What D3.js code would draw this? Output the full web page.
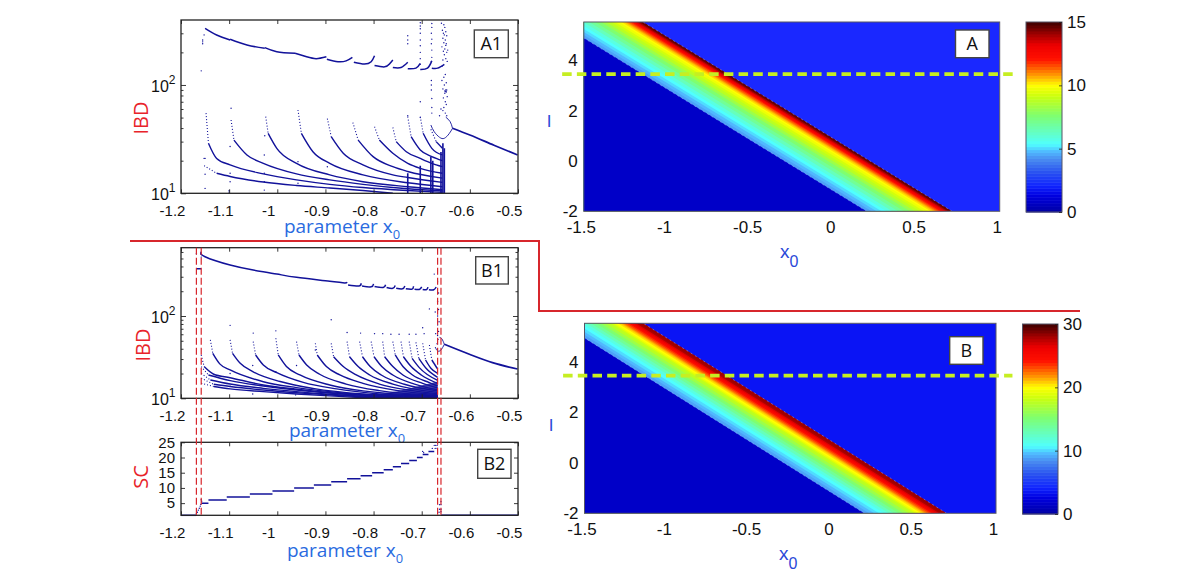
<!DOCTYPE html>
<html><head><meta charset="utf-8">
<style>html,body{margin:0;padding:0;background:#fff}svg{display:block}</style>
<script src="https://cdn.jsdelivr.net/npm/d3@7"></script></head><body>
<svg id="c" width="1200" height="575"></svg>
<script>
// ---------- DATA ----------
const xTicksLeft = [-1.2,-1.1,-1,-0.9,-0.8,-0.7,-0.6,-0.5];
const xTicksHeat = [-1.5,-1,-0.5,0,0.5,1];
const yTicksHeat = [-2,0,2,4];
const logMinor = [20,30,40,50,60,70,80,90,200,300,400,500,600];
const scTicks = [5,10,15,20,25];
const cbTicksA = [0,5,10,15];
const cbTicksB = [0,10,20,30];

const a1Curves = [
 [[-1.152,18],[-1.126,15.3],[-1.098,14.3],[-1.029,12.7],[-.96,11.8],[-.891,11.2],[-.822,10.6],[-.76,10]],
 [[-1.148,55],[-1.143,29],[-1.126,21],[-1.098,18.3],[-1.029,15.1],[-.96,13.3],[-.891,12.1],[-.822,11.3],[-.729,10.6],[-.657,10.2]],
 [[-1.096,47.5],[-1.09,31],[-1.063,22.6],[-1.029,18.9],[-.96,15.1],[-.891,13.3],[-.822,12.1],[-.729,11],[-.657,10.5]],
 [[-1.024,51],[-1.019,35.8],[-1.001,26],[-.96,18.9],[-.891,14.8],[-.822,12.8],[-.729,11.5],[-.657,10.8]],
 [[-.957,58.8],[-.95,35.8],[-.926,24.2],[-.891,18.9],[-.822,14.8],[-.729,12.5],[-.657,11.5]],
 [[-.896,49],[-.888,33.3],[-.863,23.4],[-.822,18.3],[-.76,14.8],[-.729,14],[-.657,12.6]],
 [[-.843,45],[-.832,31],[-.801,21.8],[-.76,17.6],[-.729,15.9],[-.657,13.8]],
 [[-.798,41.2],[-.788,31],[-.76,23.4],[-.729,18.9],[-.703,17],[-.657,15.3]],
 [[-.76,40.5],[-.753,30],[-.732,24.2],[-.703,21],[-.679,18.9],[-.657,17.6]],
 [[-.729,51],[-.722,33.3],[-.703,25.1],[-.679,21.8],[-.657,20]],
 [[-.703,51],[-.697,35.8],[-.679,26],[-.657,22.6]],
 [[-.681,39],[-.67,30],[-.657,26]]
];
const a1Top = [
 [[-1.15,333],[-1.126,289],[-1.098,260]],
 [[-1.098,264],[-1.063,234],[-1.026,218]],
 [[-1.026,221],[-1.001,203],[-.963,196]],
 [[-.963,196],[-.939,182],[-.919,175],[-.898,182]],
 [[-.897,173],[-.874,164],[-.857,167],[-.844,180]],
 [[-.841,162],[-.819,156],[-.805,164],[-.798,186]],
 [[-.798,151],[-.777,147],[-.767,156],[-.76,170]],
 [[-.76,145],[-.743,145],[-.729,162]],
 [[-.729,141],[-.712,143],[-.703,158]],
 [[-.703,139],[-.688,143],[-.679,167]],
 [[-.679,143],[-.667,143],[-.653,155]]
];
const a1Tail = [[-.636,39.8],[-.6,34.5],[-.55,27.8],[-.501,22.6]];
const a1LoopUp = [[-.636,39.8],[-.641,45.9],[-.65,50.4]];
const a1LoopDown = [[-.636,39.8],[-.643,35.5],[-.653,32.2],[-.663,32.9],[-.674,37],[-.681,42.7]];
const a1Columns = [[-.729,10,15.3],[-.703,10,18],[-.681,10,21.8],[-.677,10,20],[-.66,10,24],[-.656,10,29],[-.653,10,26]];
const a1Dots = [
 [-.659,372],[-.654,360],[-.652,340],[-.657,320],[-.65,310],[-.653,290],[-.648,285],[-.656,270],[-.651,260],[-.654,245],[-.649,240],[-.658,225],[-.652,215],[-.655,205],[-.648,200],[-.653,190],[-.65,175],[-.656,170],[-.647,165],[-.651,125],[-.654,118],[-.658,110],[-.649,105],[-.653,100],[-.656,92],[-.65,90],[-.648,90],[-.652,84],[-.647,78],[-.655,76],[-.651,70],[-.649,66],[-.654,62],[-.656,58],[-.651,55],[-.648,52],
 [-.655,300],[-.65,232],[-.646,210],[-.657,150],[-.652,88],[-.65,87],[-.649,86],[-.66,60],[-.663,52],
 [-.679,370],[-.679,340],[-.68,300],[-.679,265],[-.68,240],[-.679,210],[-.679,180],[-.68,165],[-.68,110],[-.68,100],[-.68,90],[-.679,75],[-.679,62],[-.679,55],
 [-.703,375],[-.703,350],[-.703,330],[-.703,300],[-.703,260],[-.703,230],[-.703,200],[-.703,175],[-.703,155],[-.703,70],[-.703,50],
 [-.729,285],[-.729,260],[-.729,240],[-.729,52],
 [-1.158,135],[-1.155,250],[-1.155,260],[-1.155,240],[-1.152,290],[-1.152,21],[-1.15,21],[-1.15,15],[-1.15,11.1],
 [-1.098,27],[-1.098,15.3],[-1.098,12.8],[-1.1,10.3],[-1.1,10.6],[-1.1,10],[-1.096,61],
 [-1.026,34],[-1.027,22.6],[-1.027,15.3],[-1.027,12.8],[-1.027,10.7],[-.957,19.6],[-.957,12.4],[-.896,17.6]
];

const b1Curves = [
 [[-1.158,15.2],[-1.132,13.9],[-1.098,13],[-1.029,12.05],[-.96,11.3],[-.891,10.7],[-.822,10.2],[-.781,10]],
 [[-1.158,17.5],[-1.132,14.8],[-1.098,13.9],[-1.029,12.6],[-.96,11.7],[-.891,11],[-.822,10.4],[-.753,10]],
 [[-1.158,20.1],[-1.139,16.7],[-1.098,14.9],[-1.029,13.2],[-.96,12.05],[-.891,11.2],[-.822,10.6],[-.719,10]],
 [[-1.158,24.3],[-1.143,19.2],[-1.098,16.4],[-1.029,14.1],[-.96,12.6],[-.891,11.6],[-.822,10.9],[-.667,10.2]],
 [[-1.158,33.6],[-1.152,24.3],[-1.132,19.6],[-1.098,17.8],[-1.029,14.5],[-.96,12.9],[-.891,11.7],[-.822,10.9],[-.667,10.3]],
 [[-1.139,51.3],[-1.134,35.2],[-1.119,26],[-1.098,22.1],[-1.029,15.9],[-.96,13.5],[-.891,12.05],[-.822,11.1],[-.667,10.4]],
 [[-1.098,51.3],[-1.093,35.2],[-1.077,26.6],[-1.05,21],[-.994,16],[-.926,13.2],[-.822,11.3],[-.667,10.5]],
 [[-1.05,48.9],[-1.045,33.6],[-1.029,25.4],[-1.001,20.5],[-.946,15.6],[-.877,13],[-.788,11.3],[-.667,10.6]],
 [[-1.003,53.6],[-.998,33.6],[-.981,24.3],[-.953,19.2],[-.891,14.5],[-.822,12.3],[-.667,10.7]],
 [[-.96,48.9],[-.955,33.6],[-.939,25.4],[-.912,19.6],[-.857,14.9],[-.788,12.4],[-.667,10.9]],
 [[-.921,46.6],[-.917,33.6],[-.898,24.3],[-.87,19.2],[-.822,15.2],[-.753,12.5],[-.667,11.1]],
 [[-.888,46.6],[-.883,32],[-.863,24.3],[-.836,19.2],[-.788,14.9],[-.719,12.4],[-.667,11.4]],
 [[-.855,48.9],[-.85,32],[-.832,24.3],[-.808,19.2],[-.76,14.9],[-.667,11.8]],
 [[-.829,48.9],[-.823,32],[-.807,24.3],[-.784,19.2],[-.736,14.8],[-.667,12.3]],
 [[-.805,48.9],[-.799,32],[-.783,24.3],[-.76,19.2],[-.715,14.9],[-.667,12.7]],
 [[-.781,48.9],[-.777,32],[-.76,24.3],[-.739,19.2],[-.698,15.2],[-.667,13.4]],
 [[-.76,48.9],[-.755,33.6],[-.739,24.3],[-.719,19.2],[-.684,15.5],[-.667,14.1]],
 [[-.743,48.9],[-.738,32],[-.722,24.3],[-.701,19.2],[-.667,15.2]],
 [[-.726,48.9],[-.72,30.6],[-.705,23.6],[-.667,16.5]],
 [[-.712,47.9],[-.706,30.6],[-.691,23.2],[-.667,18]],
 [[-.698,46.6],[-.692,29.2],[-.681,23.2],[-.667,20.1]],
 [[-.684,44.4],[-.679,29.2],[-.667,22.7]]
];
const b1Top = [
 [[-1.158,604],[-1.15,525],[-1.098,416],[-1.05,362],[-1.001,324],[-.96,295],[-.891,265],[-.86,252],[-.855,258]],
 [[-.853,238],[-.83,232],[-.826,250]],
 [[-.824,232],[-.805,226],[-.8,246]],
 [[-.798,228],[-.78,222],[-.775,240]],
 [[-.773,222],[-.76,217],[-.755,235]],
 [[-.753,218],[-.74,214],[-.735,232]],
 [[-.733,214],[-.72,212],[-.717,230]],
 [[-.715,212],[-.705,210],[-.7,226]],
 [[-.698,210],[-.69,209],[-.687,224]],
 [[-.685,209],[-.675,208],[-.67,225]],
 [[-1.168,376],[-1.158,376]]
];
const b1Tail = [[-.653,45.3],[-.601,34.3],[-.553,27.1],[-.501,22.7]];
const b1LoopUp = [[-.653,45.3],[-.658,52.6],[-.663,55]];
const b1LoopDown = [[-.653,45.3],[-.66,38.7],[-.667,37.6],[-.672,42]];
const b1Wedge = [[-.85,10],[-.667,10],[-.667,16],[-.75,12.2]];
const b1Dots = [
 [-1.098,77],[-.888,90],[-.674,323],[-.684,122],[-.672,112],[-.698,72],[-.855,63],[-.827,62],[-.798,61],[-.781,61],[-.764,60],[-.747,60],[-.726,60],[-.712,60],[-.695,61],[-.671,61],
 [-1.05,62],[-1.003,66],[-1.051,25],[-1.003,21],[-.96,25],[-.921,38.6],[-1.051,11.3],[-.962,11],[-1.098,20],[-1.098,14],
 [-.667,260],[-.665,190],[-.667,150],[-.665,120],[-.667,100],[-.664,85],[-.667,78],[-.665,65],[-.667,58],[-.666,52],[-.668,46],
 [-1.158,560],[-1.158,520],[-1.168,570]
];
const b2Steps = [
 [-1.2,-1.168,1],[-1.158,-1.143,5],[-1.143,-1.105,6],[-1.105,-1.057,7],[-1.057,-1.01,8],[-1.01,-.965,9],[-.965,-.924,10],[-.924,-.888,11],[-.888,-.855,12],[-.855,-.827,13],[-.827,-.803,14],[-.803,-.779,15],[-.779,-.76,16],[-.76,-.743,17],[-.743,-.726,18],[-.726,-.71,19],[-.71,-.698,20],[-.698,-.686,21],[-.686,-.674,22],[-.66,-.5,1]
];
const b2Dots = [
 [-1.168,1.5],[-1.166,2],[-1.164,2.7],[-1.162,3.3],[-1.16,4],[-1.159,4.6],[-1.157,5.6],[-1.158,6.1],
 [-.698,22],[-.696,21.6],[-.674,24],[-.671,24],[-.668,24],[-.678,23],[-.672,23],[-.668,23],
 [-.664,2],[-.663,3],[-.66,2.2],[-.66,3],[-.663,4.5],[-.66,4.5],[-.66,5.5]
];
const redX = [-1.168,-1.158,-.667,-.66];

// heat-map bands: colormap fraction and edge x0 on the rows I = -2 and I = top
const heatLevels = [.27,.29,.31,.33,.35,.38,.42,.46,.5,.54,.58,.61,.64,.66,.68,.7,.72,.75,.78,.82,.85,.88,.92,.96,1];
const heatABottom = [.2,.23,.26,.29,.32,.355,.39,.425,.46,.49,.52,.545,.57,.585,.6,.61,.62,.633,.645,.656,.665,.677,.69,.7,.714];
const heatATop = [-1.658,-1.628,-1.598,-1.568,-1.538,-1.503,-1.468,-1.433,-1.398,-1.368,-1.338,-1.313,-1.288,-1.273,-1.258,-1.248,-1.238,-1.225,-1.213,-1.202,-1.193,-1.181,-1.168,-1.158,-1.144];
const heatBBottom = [.2,.23,.26,.29,.32,.35,.38,.41,.44,.47,.5,.515,.53,.545,.56,.57,.58,.595,.61,.625,.64,.655,.67,.685,.7];
const heatBTop = [-1.642,-1.612,-1.582,-1.552,-1.522,-1.492,-1.462,-1.432,-1.402,-1.372,-1.342,-1.327,-1.312,-1.297,-1.282,-1.272,-1.262,-1.247,-1.232,-1.217,-1.202,-1.187,-1.172,-1.157,-1.142];
const heatAMax = .965, heatBMax = .93;
const dashI = [3.45,3.45];
const dashX = [-1.63,1.1];

// colormap stops
const cmF = [0,.08,.13,.2,.27,.31,.35,.5,.6,.66,.72,.8,.87,.93,1];
const cmC = ["#0000a8","#0000e0","#1024ff","#2850f0","#4a8cf0","#50b8ff","#50ffff","#7fff70","#c8ff10","#ffff00","#ff9000","#ff1000","#ee0000","#a00000","#300000"];
const cbSteps = d3.range(0,1.0001,1/64);

// ---------- DRAW ----------
const svg = d3.select("#c");
const navy = "#12129a", red = "#d7262c", blue = "#2a6be0", heatBlue = "#2a48d8";
const tickFont = "'Liberation Sans',Arial,sans-serif", labFont = "'Open Sans',sans-serif";
const cmap = d3.scaleLinear().domain(cmF).range(cmC).interpolate(d3.interpolateRgb);
const plainNum = d => String(d);

const xA1 = d3.scaleLinear([-1.2,-.5],[181,518]);
const yA1 = d3.scaleLog([10,398],[193.3,20]);
const yB1 = d3.scaleLog([10,676],[398.3,247.7]);
const yB2 = d3.scaleLinear([1,25],[515.3,442.3]);

let clipN = 0;
function clip(x0,y0,x1,y1){
  const id="cl"+(clipN++);
  svg.append("clipPath").attr("id",id).append("rect").attr("x",x0).attr("y",y0).attr("width",x1-x0).attr("height",y1-y0);
  return "url(#"+id+")";
}
function style(g){ g.selectAll("path.domain").remove(); g.selectAll("line").attr("stroke","#222").attr("stroke-width",.9); }

function leftFrame(x,y,yAxisFn){
  const [l,r]=x.range(), [b,t]=y.range();
  const gb=svg.append("g").attr("transform",`translate(0,${b})`).call(d3.axisBottom(x).tickValues(xTicksLeft).tickFormat(plainNum).tickSize(-4).tickPadding(0));
  style(gb);
  gb.selectAll("text").attr("font-family",tickFont).attr("font-size",15).attr("fill","#111").attr("dy",0).attr("y",23).attr("dx",-9);
  const gt=svg.append("g").attr("transform",`translate(0,${t})`).call(d3.axisTop(x).tickValues(xTicksLeft).tickFormat("").tickSize(-4));
  style(gt);
  yAxisFn(l,r);
  svg.append("rect").attr("x",l).attr("y",t).attr("width",r-l).attr("height",b-t).attr("fill","none").attr("stroke","#222").attr("stroke-width",1.3);
}
function logAxis(y,labels){
  return (l,r)=>{
    const major=[10,100], minor=logMinor.filter(v=>v<y.domain()[1]);
    [[l,d3.axisRight],[r,d3.axisLeft]].forEach(([px,ax])=>{
      style(svg.append("g").attr("transform",`translate(${px},0)`).call(ax(y).tickValues(major).tickFormat("").tickSize(5)));
      style(svg.append("g").attr("transform",`translate(${px},0)`).call(ax(y).tickValues(minor).tickFormat("").tickSize(2.5)));
    });
    labels.forEach(([txt,sup,base])=>{
      const t=svg.append("text").attr("x",151).attr("y",base).attr("font-family",tickFont).attr("font-size",16).attr("fill","#111").text(txt);
      t.append("tspan").attr("dy",-8.5).attr("font-size",12).text(sup);
    });
  };
}
function panelLabel(x0,y0,x1,y1,txt,size){
  svg.append("rect").attr("x",x0).attr("y",y0).attr("width",x1-x0).attr("height",y1-y0).attr("fill","#fff").attr("stroke","#444").attr("stroke-width",1.4);
  svg.append("text").attr("x",(x0+x1)/2).attr("y",(y0+y1)/2+size*.36).attr("text-anchor","middle").attr("font-family",labFont).attr("font-size",size).attr("fill","#111").text(txt);
}
function xLabel(cx,base,fill,fam,size){
  const t=svg.append("text").attr("x",cx).attr("y",base).attr("text-anchor","middle").attr("font-family",fam).attr("font-size",size).attr("fill",fill).text("parameter x");
  t.append("tspan").attr("dy",size*.3).attr("font-size",size*.68).text("0");
}
function rotLabel(cx,cy,txt,size){
  svg.append("text").attr("transform",`translate(${cx},${cy}) rotate(-90)`).attr("text-anchor","middle").attr("font-family",labFont).attr("font-size",size).attr("fill","#e8232a").text(txt);
}

function marks(x,y,curves,top,tail,loops,cols,dots,cp){
  const g=svg.append("g").attr("clip-path",cp).attr("fill","none").attr("stroke",navy);
  const smooth=d3.line().x(d=>x(d[0])).y(d=>y(d[1])).curve(d3.curveMonotoneX);
  const plain=d3.line().x(d=>x(d[0])).y(d=>y(d[1])).curve(d3.curveNatural);
  curves.forEach(c=>{
    g.append("path").attr("d",smooth(c.slice(0,2))).attr("stroke-width",1.1).attr("stroke-dasharray","1 2");
    g.append("path").attr("d",smooth(c.slice(1))).attr("stroke-width",1.4);
  });
  top.forEach(c=>g.append("path").attr("d",plain(c)).attr("stroke-width",1.5));
  g.append("path").attr("d",smooth(tail)).attr("stroke-width",1.7);
  loops.forEach(c=>g.append("path").attr("d",plain(c)).attr("stroke-width",.9));
  cols.forEach(c=>g.append("line").attr("x1",x(c[0])).attr("x2",x(c[0])).attr("y1",y(c[1])).attr("y2",y(c[2])).attr("stroke-width",1.6));
  g.selectAll("circle").data(dots).join("circle").attr("cx",d=>x(d[0])).attr("cy",d=>y(d[1])).attr("r",.7).attr("fill",navy).attr("stroke","none");
}

// A1
marks(xA1,yA1,a1Curves,a1Top,a1Tail,[a1LoopUp,a1LoopDown],a1Columns,a1Dots,clip(181,20,518,193.3));
leftFrame(xA1,yA1,logAxis(yA1,[["10","2",92],["10","1",200]]));
panelLabel(474.3,30,508.3,57.7,"A1",18);
xLabel(342,233,blue,labFont,19);
rotLabel(148,118,"IBD",20);

// B1
const cpB1=clip(181,247.7,518,398.3);
svg.append("path").attr("clip-path",cpB1).attr("fill",navy).attr("fill-opacity",.8).attr("d",d3.line().x(d=>xA1(d[0])).y(d=>yB1(d[1]))(b1Wedge));
marks(xA1,yB1,b1Curves,b1Top,b1Tail,[b1LoopUp,b1LoopDown],[],b1Dots,cpB1);
leftFrame(xA1,yB1,logAxis(yB1,[["10","2",323],["10","1",405]]));
panelLabel(475.7,256.7,508.3,284,"B1",18);
xLabel(347,437,blue,labFont,19);
rotLabel(150,345,"IBD",20);

// B2
const b2g=svg.append("g").attr("clip-path",clip(181,442.3,518,517));
b2g.selectAll("line").data(b2Steps).join("line").attr("x1",d=>xA1(d[0])).attr("x2",d=>xA1(d[1])).attr("y1",d=>yB2(d[2])).attr("y2",d=>yB2(d[2])).attr("stroke",navy).attr("stroke-width",1.5);
b2g.selectAll("circle").data(b2Dots).join("circle").attr("cx",d=>xA1(d[0])).attr("cy",d=>yB2(d[1])).attr("r",.7).attr("fill",navy);
leftFrame(xA1,yB2,(l,r)=>{
  const gl=svg.append("g").attr("transform",`translate(${l},0)`).call(d3.axisRight(yB2).tickValues(scTicks).tickFormat(d3.format("d")).tickSize(4).tickPadding(0));
  style(gl);
  gl.selectAll("text").attr("text-anchor","end").attr("x",-6).attr("font-family",tickFont).attr("font-size",15).attr("fill","#111");
  style(svg.append("g").attr("transform",`translate(${r},0)`).call(d3.axisLeft(yB2).tickValues(scTicks).tickFormat("").tickSize(4)));
});
panelLabel(477.7,449.3,511,478.3,"B2",18);
xLabel(345,557,blue,labFont,19);
rotLabel(148,477,"SC",20);

// red dashed guides through B1 and B2
svg.append("g").selectAll("line").data(redX).join("line")
  .attr("x1",d=>xA1(d)).attr("x2",d=>xA1(d)).attr("y1",yB1.range()[1]).attr("y2",yB2.range()[0])
  .attr("stroke",red).attr("stroke-width",1.2).attr("stroke-dasharray","7 3");

// heat maps
function heat(xr,yr,bottom,top,upperColor,maxF,cbx,cbTicks,cbMax,label,lbox,xlabX,xlabB,iX,iY,lblY,cbY){
  const x=d3.scaleLinear([-1.5,1],xr), y=d3.scaleLinear([-2,5.52],yr);
  const [l,r]=xr,[b,t]=yr, cp=clip(l,t,r,b);
  const g=svg.append("g").attr("clip-path",cp);
  g.append("rect").attr("x",l).attr("y",t).attr("width",r-l).attr("height",b-t).attr("fill",upperColor);
  for(let k=heatLevels.length-1;k>=0;k--){
    const pts=[[bottom[k],-2],[top[k],5.52],[-3,5.52],[-3,-2]];
    g.append("polygon").attr("points",pts.map(p=>x(p[0])+","+y(p[1])).join(" ")).attr("fill",cmap(Math.min(heatLevels[k],maxF)));
  }
  const pts0=[[bottom[0],-2],[top[0],5.52],[-3,5.52],[-3,-2]];
  g.append("polygon").attr("points",pts0.map(p=>x(p[0])+","+y(p[1])).join(" ")).attr("fill","#0000c8");
  // pale speckled rims along the first and last band edges
  [0,heatLevels.length-1].forEach(k=>{
    g.append("line").attr("x1",x(bottom[k])).attr("y1",y(-2)).attr("x2",x(top[k])).attr("y2",y(5.52))
      .attr("stroke","#b8c4ff").attr("stroke-width",.7).attr("stroke-opacity",.6).attr("stroke-dasharray","2 3");
  });
  svg.append("rect").attr("x",l).attr("y",t).attr("width",r-l).attr("height",b-t).attr("fill","none").attr("stroke","#556").attr("stroke-width",1);
  const gx=svg.append("g").attr("transform",`translate(0,${b})`).call(d3.axisBottom(x).tickValues(xTicksHeat).tickFormat(plainNum).tickSize(0).tickPadding(0));
  gx.select("path.domain").remove();
  gx.selectAll("text").attr("font-family",tickFont).attr("font-size",17).attr("fill","#111").attr("y",lblY).attr("dy",0).attr("dx",-3);
  const gy=svg.append("g").attr("transform",`translate(${l},0)`).call(d3.axisLeft(y).tickValues(yTicksHeat).tickFormat(plainNum).tickSize(0).tickPadding(6));
  gy.select("path.domain").remove();
  gy.selectAll("text").attr("font-family",tickFont).attr("font-size",17).attr("fill","#111");
  // colour bar
  const cy=d3.scaleLinear([0,cbMax],cbY);
  const h=Math.abs(cy(cbMax/64)-cy(0));
  svg.append("g").selectAll("rect").data(cbSteps.slice(0,64)).join("rect").attr("x",cbx[0]).attr("width",cbx[1]-cbx[0])
    .attr("y",d=>cy((d+1/64)*cbMax)).attr("height",h+.5).attr("fill",d=>cmap(d));
  svg.append("rect").attr("x",cbx[0]).attr("y",cbY[1]).attr("width",cbx[1]-cbx[0]).attr("height",cbY[0]-cbY[1]).attr("fill","none").attr("stroke","#556").attr("stroke-width",1);
  const gc=svg.append("g").attr("transform",`translate(${cbx[1]},0)`).call(d3.axisRight(cy).tickValues(cbTicks).tickSize(-3).tickPadding(5));
  gc.select("path.domain").remove();
  gc.selectAll("line").attr("stroke","#222").attr("stroke-width",.8);
  gc.selectAll("text").attr("font-family",tickFont).attr("font-size",17).attr("fill","#111");
  panelLabel(lbox[0],lbox[1],lbox[2],lbox[3],label,18);
  const xl=svg.append("text").attr("x",xlabX).attr("y",xlabB).attr("font-family",tickFont).attr("font-size",19).attr("fill",heatBlue).text("x");
  xl.append("tspan").attr("dy",9).attr("font-size",16).text("0");
  svg.append("text").attr("x",iX).attr("y",iY).attr("text-anchor","middle").attr("font-family",tickFont).attr("font-size",17).attr("fill",heatBlue).text("I");
  svg.append("path").attr("d",d3.line().x(d=>x(d)).y(()=>y(dashI[0]))(dashX)).attr("stroke","#c6ee22").attr("stroke-width",3.6).attr("stroke-dasharray","9.5 5.2").attr("fill","none");
}
heat([583.8,999.7],[211.3,22],heatABottom,heatATop,"#1a28ff",heatAMax,[1026,1062],cbTicksA,15,"A",[955.5,30,989,57.7],780,258,549,127,22,[212,22]);
heat([584.5,996],[513.3,323.3],heatBBottom,heatBTop,"#0a14f5",heatBMax,[1022.5,1058],cbTicksB,30,"B",[949.7,336.7,983,364.3],779,560,551,431,22,[514,324]);

// red separator
svg.append("path").attr("d",d3.line()([[130,241],[539,241],[539,311],[1080,311]])).attr("fill","none").attr("stroke",red).attr("stroke-width",2);
</script></body></html>
